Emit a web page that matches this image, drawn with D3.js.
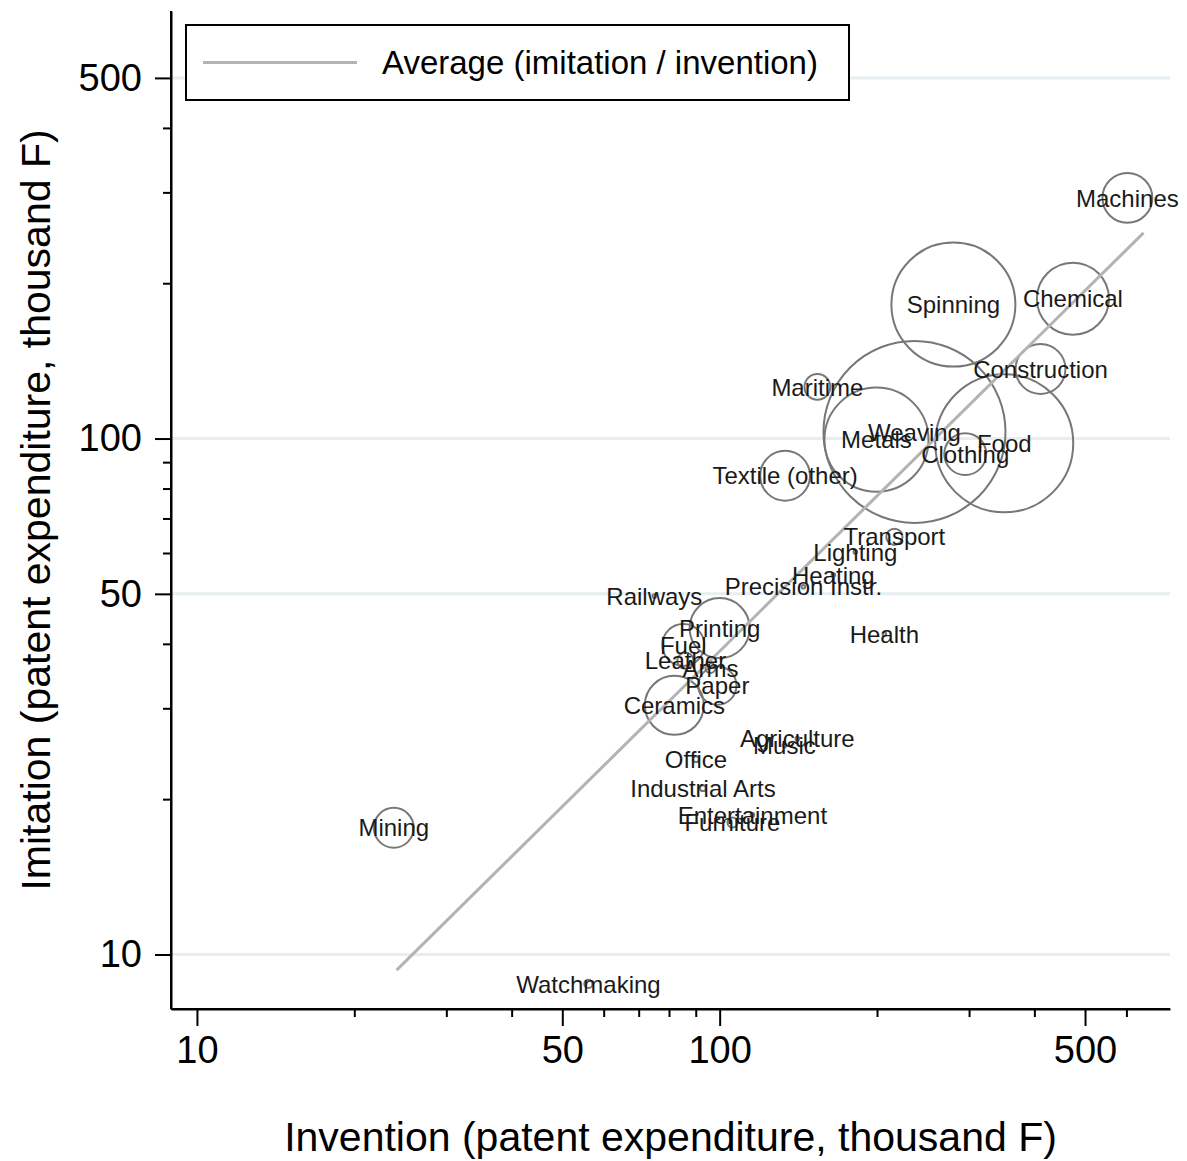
<!DOCTYPE html>
<html>
<head>
<meta charset="utf-8">
<script src="https://cdn.jsdelivr.net/npm/d3@7"></script>
<style>
  html, body { margin: 0; padding: 0; background: #fff; }
  svg { display: block; font-family: "Liberation Sans", Arial, Helvetica, sans-serif; }
</style>
</head>
<body>
<svg id="chart" width="1187" height="1161"></svg>
<script>
// Patent expenditure by sector (thousand F)
const sectors = ["Machines", "Spinning", "Chemical", "Construction", "Maritime", "Weaving",
  "Metals", "Food", "Clothing", "Textile (other)", "Transport", "Lighting", "Heating",
  "Precision Instr.", "Railways", "Printing", "Health", "Fuel", "Leather", "Arms", "Paper",
  "Ceramics", "Agriculture", "Music", "Office", "Industrial Arts", "Entertainment",
  "Furniture", "Mining", "Watchmaking"];
const invention = [602.6, 280, 474, 411, 153.8, 235.9, 199.5, 350.3, 295, 133.4, 215.9,
  181.8, 165, 144.6, 75, 100, 206.6, 85.2, 86.0, 96.0, 99.0, 81.9, 140.8, 133, 90.1, 92.9,
  115.5, 105.8, 23.8, 56.1];
const imitation = [292.7, 181.8, 186.6, 136.4, 125.9, 103.0, 99.5, 97.9, 93.3, 84.7, 64.5,
  60.3, 54.4, 51.6, 49.5, 42.9, 41.8, 39.8, 37.1, 35.9, 33.2, 30.4, 26.2, 25.4, 23.9, 21.0,
  18.64, 18.03, 17.6, 8.77];
// bubble weight (area)
const weight = [75, 464, 157, 75, 20, 1000, 327, 575, 53, 75, 8, 0.4, 0.4, 0.4, 0.4, 109,
  0.4, 53, 8, 3, 44, 105, 0.4, 0.4, 1, 1, 0.4, 3, 48, 2];

// ratio of averages and the span of the reference line
const avgRatio = 0.387;
const avgLineX = [24.1, 647];

const xMajorTicks = [10, 50, 100, 500];
const xMinorTicks = [20, 30, 40, 60, 70, 80, 90, 200, 300, 400, 600];
const yMajorTicks = [10, 50, 100, 500];
const yMinorTicks = [20, 30, 40, 60, 70, 80, 90, 200, 300, 400];

const legendLabel = "Average (imitation / invention)";
const xTitle = "Invention (patent expenditure, thousand F)";
const yTitle = "Imitation (patent expenditure, thousand F)";

const plot = { left: 171, right: 1170, top: 11, bottom: 1009 };
const svg = d3.select("#chart");

const x = d3.scaleLog().domain([8.92, 727]).range([plot.left, plot.right]);
const y = d3.scaleLog().domain([7.84, 674]).range([plot.bottom, plot.top]);
const r = d3.scaleSqrt().domain([0, 1000]).range([0, 91]);

const data = sectors.map((s, i) => ({ name: s, inv: invention[i], imi: imitation[i], w: weight[i] }));

// horizontal gridlines
svg.append("g").selectAll("line").data(yMajorTicks).join("line")
  .attr("x1", plot.left).attr("x2", plot.right)
  .attr("y1", d => y(d)).attr("y2", d => y(d))
  .attr("stroke", "#e6eef1").attr("stroke-width", 3);

// bubbles
svg.append("g").selectAll("circle").data(data.slice().sort((a, b) => b.w - a.w)).join("circle")
  .attr("cx", d => x(d.inv)).attr("cy", d => y(d.imi)).attr("r", d => r(d.w))
  .attr("fill", "none").attr("stroke", "#777").attr("stroke-width", 2);

// average ratio line
svg.append("line")
  .attr("x1", x(avgLineX[0])).attr("y1", y(avgLineX[0] * avgRatio))
  .attr("x2", x(avgLineX[1])).attr("y2", y(avgLineX[1] * avgRatio))
  .attr("stroke", "#b3b3b3").attr("stroke-width", 3);

// sector labels, centred on each bubble
svg.append("g").selectAll("text").data(data).join("text")
  .attr("x", d => x(d.inv)).attr("y", d => y(d.imi))
  .attr("dy", "0.36em").attr("text-anchor", "middle")
  .attr("font-size", 24).attr("fill", "#1a1a1a")
  .text(d => d.name);

// axes
const fmt = d3.format("d");
const gx = svg.append("g").attr("transform", `translate(0,${plot.bottom})`)
  .call(d3.axisBottom(x).tickValues(xMajorTicks).tickFormat(fmt).tickSize(17).tickPadding(10).tickSizeOuter(0));
const gxm = svg.append("g").attr("transform", `translate(0,${plot.bottom})`)
  .call(d3.axisBottom(x).tickValues(xMinorTicks).tickFormat("").tickSize(8).tickSizeOuter(0));
const gy = svg.append("g").attr("transform", `translate(${plot.left},0)`)
  .call(d3.axisLeft(y).tickValues(yMajorTicks).tickFormat(fmt).tickSize(16).tickPadding(13).tickSizeOuter(0));
const gym = svg.append("g").attr("transform", `translate(${plot.left},0)`)
  .call(d3.axisLeft(y).tickValues(yMinorTicks).tickFormat("").tickSize(8).tickSizeOuter(0));

[gx, gxm, gy, gym].forEach(g => {
  g.select(".domain").attr("stroke", "#000").attr("stroke-width", 2);
  g.selectAll(".tick line").attr("stroke", "#000").attr("stroke-width", 2);
  g.selectAll(".tick text").attr("font-size", 38).attr("fill", "#000")
    .attr("font-family", "Liberation Sans, Arial, sans-serif");
});
// axis lines run the full plot span
gx.select(".domain").attr("d", `M${plot.left},0H${plot.right}`);
gy.select(".domain").attr("d", `M0,${plot.bottom}V${plot.top}`);

// axis titles
svg.append("text").attr("x", (plot.left + plot.right) / 2).attr("y", 1151)
  .attr("text-anchor", "middle").attr("font-size", 41).attr("fill", "#000").text(xTitle);
svg.append("text").attr("transform", `translate(50,${(plot.top + plot.bottom) / 2}) rotate(-90)`)
  .attr("text-anchor", "middle").attr("font-size", 41).attr("fill", "#000").text(yTitle);

// legend
const lg = svg.append("g");
lg.append("rect").attr("x", 186).attr("y", 25).attr("width", 663).attr("height", 75)
  .attr("fill", "#fff").attr("stroke", "#000").attr("stroke-width", 2);
lg.append("line").attr("x1", 203).attr("x2", 357).attr("y1", 62.5).attr("y2", 62.5)
  .attr("stroke", "#b3b3b3").attr("stroke-width", 3);
lg.append("text").attr("x", 382).attr("y", 62.5).attr("dy", "0.35em")
  .attr("font-size", 33).attr("fill", "#000").text(legendLabel);
</script>
</body>
</html>
